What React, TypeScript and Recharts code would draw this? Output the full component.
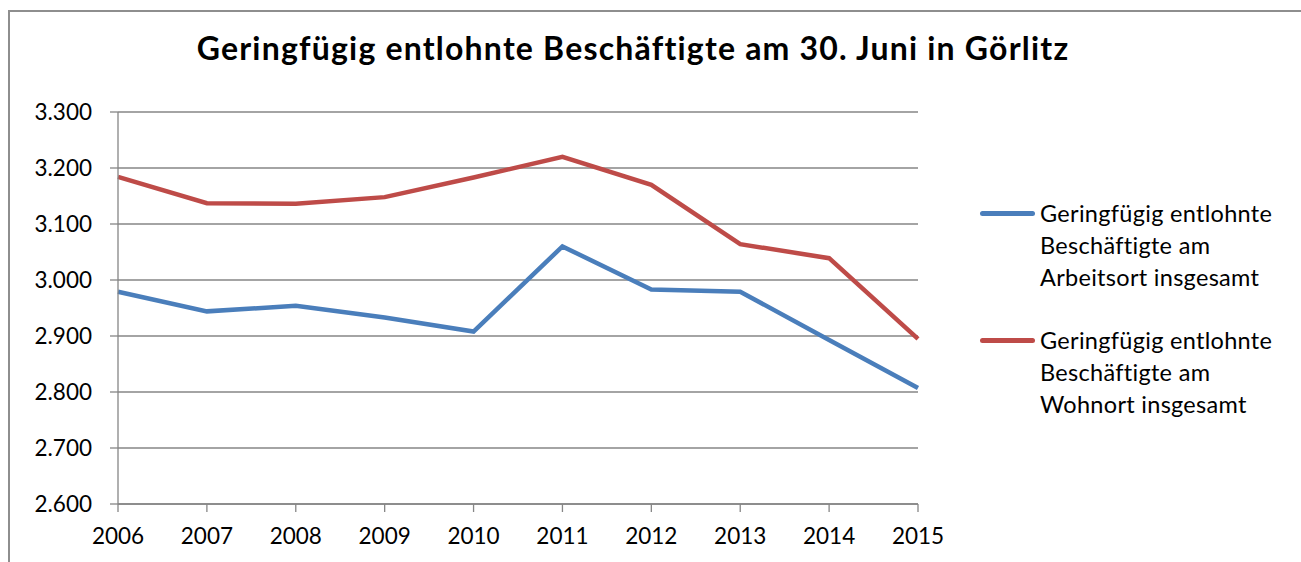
import { CartesianGrid, Legend, Line, LineChart, XAxis, YAxis } from 'recharts';

const FONT = 'Lato, "Open Sans", sans-serif';
const GRAY = '#868686';

const title = 'Geringfügig entlohnte Beschäftigte am 30. Juni in Görlitz';
const years = ['2006', '2007', '2008', '2009', '2010', '2011', '2012', '2013', '2014', '2015'];
const arbeitsort = [2979, 2944, 2954, 2933, 2908, 3060, 2983, 2979, 2893, 2807];
const wohnort = [3184, 3137, 3136, 3148, 3183, 3220, 3170, 3064, 3039, 2895];
const yTicks = [2600, 2700, 2800, 2900, 3000, 3100, 3200, 3300];
const seriesNames = [
  'Geringfügig entlohnte\nBeschäftigte am\nArbeitsort insgesamt',
  'Geringfügig entlohnte\nBeschäftigte am\nWohnort insgesamt',
];

const data = years.map((year, i) => ({
  year,
  arbeitsort: arbeitsort[i],
  wohnort: wohnort[i],
}));

// 3300 -> "3.300"
const formatThousands = (v: number) =>
  String(v).replace(/\B(?=(\d{3})+(?!\d))/g, '.');

function LegendBox({ payload }: any) {
  return (
    <div
      style={{
        width: 300,
        fontFamily: FONT,
        fontSize: 23.5,
        letterSpacing: 0.3,
        lineHeight: '32px',
        color: '#000',
      }}
    >
      {(payload ?? []).map((entry: any, i: number) => (
        <div key={i} style={{ display: 'flex', alignItems: 'flex-start', marginBottom: i === 0 ? 31 : 0 }}>
          <span
            style={{
              flex: 'none',
              width: 55,
              height: 5,
              marginTop: 14,
              marginRight: 5,
              borderRadius: 3,
              background: entry.color,
            }}
          />
          <span style={{ whiteSpace: 'pre-line' }}>{entry.value}</span>
        </div>
      ))}
    </div>
  );
}

export default function App() {
  return (
    <div
      style={{
        position: 'fixed',
        left: 0,
        top: 0,
        width: 1301,
        height: 562,
        overflow: 'hidden',
        background: '#fff',
      }}
    >
      <div
        style={{
          position: 'absolute',
          left: 8,
          top: 10,
          width: 1400,
          height: 700,
          border: '2px solid #8e8e8e',
        }}
      />
      <div
        style={{
          position: 'absolute',
          left: 0,
          width: 1266,
          top: 28,
          textAlign: 'center',
          fontFamily: FONT,
          fontWeight: 700,
          fontSize: 32,
          letterSpacing: 1.2,
          lineHeight: '40px',
          color: '#000',
        }}
      >
        {title}
      </div>
      <LineChart
        width={1301}
        height={562}
        data={data}
        margin={{ top: 112, right: 83, bottom: 18, left: 58 }}
        style={{ position: 'absolute', left: 0, top: 0 }}
      >
        <CartesianGrid vertical={false} stroke={GRAY} strokeWidth={1.3} />
        <XAxis
          dataKey="year"
          height={40}
          stroke={GRAY}
          strokeWidth={1.3}
          tickSize={8}
          tickMargin={16}
          interval={0}
          tick={{ fill: '#000', fontFamily: FONT, fontSize: 22.5 }}
        />
        <YAxis
          width={60}
          domain={[2600, 3300]}
          ticks={yTicks}
          interval={0}
          stroke={GRAY}
          strokeWidth={1.3}
          tickSize={8}
          tickMargin={18}
          tickFormatter={formatThousands}
          tick={{ fill: '#000', fontFamily: FONT, fontSize: 22.5 }}
        />
        <Legend
          layout="vertical"
          align="right"
          verticalAlign="top"
          content={<LegendBox />}
          wrapperStyle={{ top: 197, left: 980, right: 'auto', width: 300 }}
        />
        <Line
          dataKey="arbeitsort"
          name={seriesNames[0]}
          stroke="#4a7ebb"
          strokeWidth={4.5}
          dot={false}
          activeDot={false}
          isAnimationActive={false}
        />
        <Line
          dataKey="wohnort"
          name={seriesNames[1]}
          stroke="#be4b48"
          strokeWidth={4.5}
          dot={false}
          activeDot={false}
          isAnimationActive={false}
        />
      </LineChart>
    </div>
  );
}
